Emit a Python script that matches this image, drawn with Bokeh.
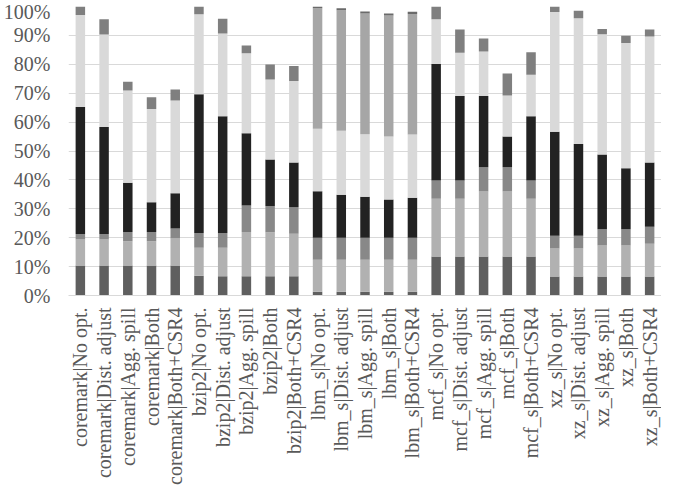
from bokeh.plotting import figure
from bokeh.models import (ColumnDataSource, FactorRange, Range1d, FixedTicker,
                          CustomJSTickFormatter, Legend, LegendItem, CategoricalAxis)
from bokeh.embed import file_html
from bokeh.resources import INLINE

groups = ["coremark", "bzip2", "lbm_s", "mcf_s", "xz_s"]
configs = ["No opt.", "Dist. adjust", "Agg. spill", "Both", "Both+CSR4"]
categories = ["Branches", "Load", "Store", "Move", "Integers", "FLOPs", "NOP", "Other"]
colors = ["#5f5f5f", "#b1b1b1", "#888888", "#222222", "#d9d9d9", "#a6a6a6", "#7f7f7f", "#6a6a6a"]

# segment sizes (percent), order: coremark x5, bzip2 x5, lbm_s x5, mcf_s x5, xz_s x5
branches = [10.4, 10.4, 10.4, 10.4, 10.4,
            6.8, 6.7, 6.7, 6.7, 6.7,
            1.3, 1.3, 1.3, 1.3, 1.3,
            13.5, 13.5, 13.5, 13.5, 13.5,
            6.6, 6.6, 6.6, 6.6, 6.6]
load = [9.0, 9.0, 8.4, 8.4, 9.3,
        9.7, 9.8, 15.3, 15.2, 14.7,
        11.1, 11.1, 11.1, 11.1, 11.1,
        20.0, 20.0, 22.5, 22.5, 20.0,
        9.7, 9.7, 10.7, 10.7, 11.3]
store = [1.9, 1.9, 3.2, 3.2, 3.5,
         5.1, 5.1, 9.1, 9.1, 9.1,
         7.6, 7.6, 7.6, 7.6, 7.6,
         6.3, 6.3, 8.4, 8.4, 6.3,
         4.4, 4.4, 5.6, 5.6, 5.9]
move = [43.9, 37.0, 17.0, 10.3, 12.2,
        48.0, 40.4, 25.0, 16.1, 15.5,
        16.1, 14.9, 14.2, 13.2, 13.8,
        40.3, 29.2, 24.6, 10.6, 22.2,
        36.0, 31.7, 25.9, 21.1, 22.2]
integers = [31.9, 32.0, 31.9, 32.2, 32.1,
            27.7, 28.7, 27.7, 27.6, 28.2,
            21.6, 22.1, 21.6, 21.8, 21.9,
            15.5, 15.0, 15.4, 14.2, 14.4,
            41.4, 43.5, 41.6, 43.4, 43.6]
flops = [0, 0, 0, 0, 0,
         0, 0, 0, 0, 0,
         41.7, 41.7, 41.8, 41.9, 41.7,
         0, 0, 0, 0, 0,
         0, 0, 0, 0, 0]
nop = [2.9, 5.3, 3.1, 4.1, 3.8,
       2.7, 5.1, 2.7, 5.2, 5.2,
       0, 0, 0, 0, 0,
       4.4, 8.0, 4.5, 7.6, 7.8,
       1.9, 2.6, 1.8, 2.5, 2.4]
other = [0, 0, 0, 0, 0,
         0, 0, 0, 0, 0,
         0.6, 0.7, 0.7, 0.7, 0.8,
         0, 0, 0, 0, 0,
         0, 0, 0, 0, 0]

series = [branches, load, store, move, integers, flops, nop, other]
keys = [f"{g}|{c}" for g in groups for c in configs]
key_labels = {f"{g}|{c}": c for g in groups for c in configs}
data = {"x": keys}
for name, vals in zip(categories, series):
    data[name] = vals
source = ColumnDataSource(data)

FONT = "'Liberation Serif', 'Times New Roman', serif"
FS = "20px"
TXT = "#595959"
GRID = "#d9d9d9"

p = figure(x_range=FactorRange(*keys, range_padding=0),
           y_range=Range1d(0, 100),
           frame_width=593, frame_height=289, output_backend="svg", toolbar_location=None,
           min_border_left=68, min_border_right=0, min_border_top=6, min_border_bottom=0)
p.outline_line_color = None
p.background_fill_color = "white"
p.extra_x_ranges = {"grp": FactorRange(*groups, range_padding=0)}

rs = p.vbar_stack(categories, x="x", width=0.4, source=source, color=colors, line_color=None)

p.yaxis.ticker = FixedTicker(ticks=list(range(0, 101, 10)))
p.yaxis.formatter = CustomJSTickFormatter(code="return tick + '%';")
p.yaxis.axis_line_color = None
p.yaxis.major_tick_line_color = None
p.yaxis.minor_tick_line_color = None
p.yaxis.major_tick_out = 0
p.yaxis.minor_tick_out = 0
p.yaxis.major_label_text_font = FONT
p.yaxis.major_label_text_font_size = FS
p.yaxis.major_label_text_color = TXT
p.yaxis.major_label_standoff = 18

p.xaxis.axis_line_color = GRID
p.xaxis.major_tick_line_color = None
p.xaxis.minor_tick_line_color = None
p.xaxis.major_tick_out = 0
p.xaxis.minor_tick_out = 0
p.xaxis.major_label_orientation = 1.5708
p.xaxis.major_label_standoff = 12
p.xaxis.major_label_overrides = key_labels
p.xaxis.major_label_text_font = FONT
p.xaxis.major_label_text_font_size = FS
p.xaxis.major_label_text_color = TXT

gax = CategoricalAxis(x_range_name="grp", axis_line_color=None,
                      major_tick_line_color=None, major_tick_out=0,
                      minor_tick_line_color=None, minor_tick_out=0,
                      major_label_standoff=18, major_label_orientation="horizontal",
                      major_label_text_font=FONT, major_label_text_font_size=FS,
                      major_label_text_color=TXT)
p.add_layout(gax, "below")

p.xgrid.grid_line_color = None
p.ygrid.grid_line_color = GRID
p.ygrid.grid_line_width = 1

handles = [p.scatter(x=[], y=[], marker="square", size=8, color=c, line_color=None) for c in colors]
items = [LegendItem(label=c, renderers=[h]) for c, h in zip(categories, handles)]
legend = Legend(items=items, orientation="horizontal", location=(-26, 0),
                label_text_font=FONT, label_text_font_size=FS, label_text_color=TXT,
                label_height=18, glyph_width=18, glyph_height=18, label_standoff=0, spacing=6,
                padding=0, margin=0, border_line_color=None, background_fill_alpha=0)
p.add_layout(legend, "below")

open("out.html", "w").write(file_html(p, INLINE))
